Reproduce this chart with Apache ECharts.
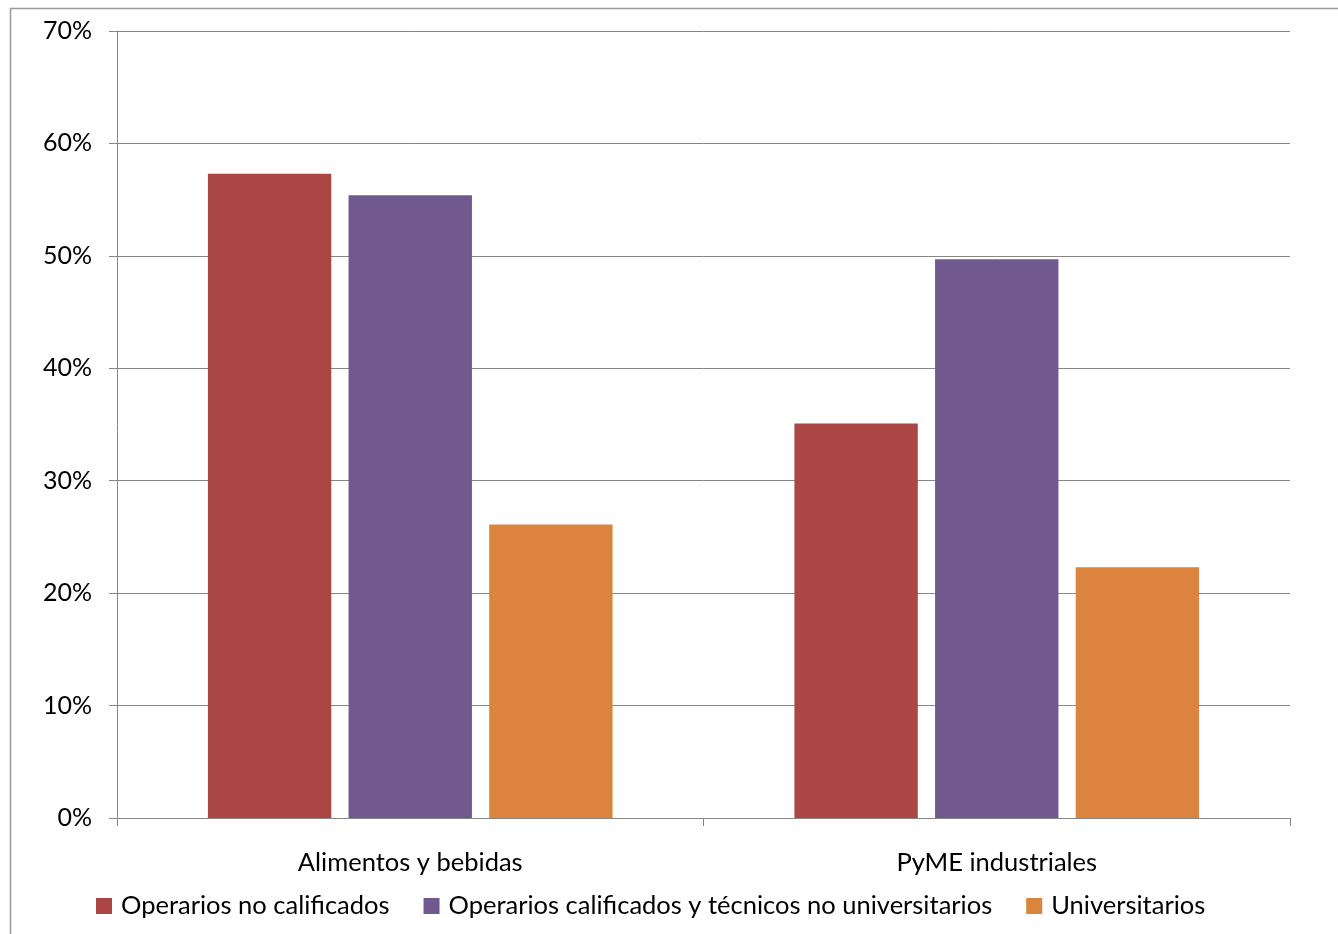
<!DOCTYPE html>
<html><head><meta charset="utf-8">
<script src="https://cdn.jsdelivr.net/npm/echarts@6/dist/echarts.min.js"></script>
<style>html,body{margin:0;padding:0;background:#fff}#c{width:1338px;height:934px}</style>
</head><body><div id="c"></div>
<script>
const categories = ['Alimentos y bebidas', 'PyME industriales'];
const seriesNames = ['Operarios no calificados', 'Operarios calificados y técnicos no universitarios', 'Universitarios'];
const operariosNoCalif = [57.3, 35.1];
const operariosCalif = [55.4, 49.7];
const universitarios = [26.1, 22.3];
const colors = ['#AA4643', '#71588F', '#DB843D'];
const yTicks = [0, 10, 20, 30, 40, 50, 60, 70];

const FONT = 'Lato';
const chart = echarts.init(document.getElementById('c'));
const values = [operariosNoCalif, operariosCalif, universitarios];
chart.setOption({
  animation: false,
  color: colors,
  textStyle: {fontFamily: FONT},
  graphic: [{type: 'rect', shape: {x: 10.5, y: 8.5, width: 1400, height: 1000}, style: {fill: 'none', stroke: '#9a9a9a', lineWidth: 1.5}, silent: true}],
  grid: {left: 117, right: 48, top: 31, bottom: 116},
  legend: {
    bottom: 10, left: 91,
    itemWidth: 16, itemHeight: 16, itemGap: 34,
    icon: 'rect',
    textStyle: {fontFamily: FONT, fontSize: 25.5, color: '#000', padding: [0, 0, 0, 4]},
    data: seriesNames
  },
  xAxis: {
    type: 'category', data: categories,
    axisLine: {lineStyle: {color: '#868686', width: 1}},
    axisTick: {show: true, length: 8, lineStyle: {color: '#868686'}},
    axisLabel: {fontFamily: FONT, fontSize: 25.5, color: '#000', margin: 32}
  },
  yAxis: {
    type: 'value', min: 0, max: 70, interval: 10,
    axisLine: {show: true, lineStyle: {color: '#868686', width: 1}},
    axisTick: {show: true, length: 8, lineStyle: {color: '#868686'}},
    splitLine: {lineStyle: {color: '#868686', width: 1}},
    axisLabel: {fontFamily: FONT, fontSize: 25, color: '#000', margin: 25,
      formatter: v => yTicks.includes(v) ? v + '%' : ''}
  },
  series: seriesNames.map((n, i) => ({
    name: n, type: 'bar', data: values[i],
    barGap: '14%', barCategoryGap: '31%'
  }))
});
</script></body></html>
